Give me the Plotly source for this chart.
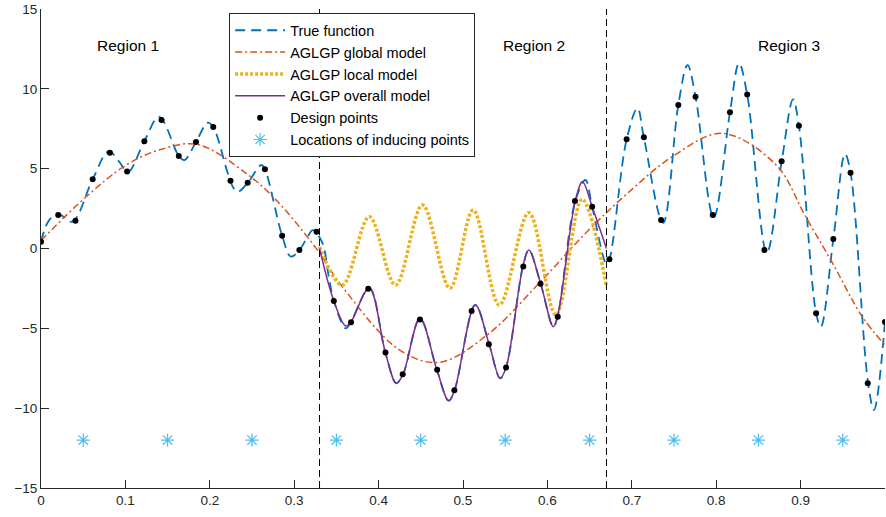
import plotly.graph_objects as go

# ---------------- data ----------------
design_x = [i / 49 for i in range(50)]
design_y = [0.43, 2.10, 1.74, 4.33, 6.00, 4.83, 6.71, 8.05, 5.79, 6.67,
            7.61, 4.25, 4.12, 4.96, 0.80, -0.09, 1.05, -3.29, -4.62, -2.52,
            -6.52, -7.88, -4.44, -7.59, -8.88, -3.91, -6.00, -7.46, -1.12, -2.20,
            -4.27, 2.97, 2.62, -0.68, 6.84, 6.96, 1.78, 8.99, 9.51, 2.10,
            8.53, 9.65, -0.09, 5.46, 7.69, -4.06, 0.59, 4.75, -8.44, -4.60]

true_x = [0.000, 0.0097, 0.021, 0.037, 0.0612, 0.080, 0.0926, 0.103, 0.1224, 0.140,
          0.1633, 0.170, 0.1837, 0.1975, 0.2041, 0.232, 0.2449, 0.261, 0.2653, 0.2857,
          0.296, 0.3061, 0.316, 0.322, 0.333, 0.3416, 0.347, 0.361, 0.367, 0.389,
          0.408, 0.421, 0.429, 0.449, 0.469, 0.483, 0.490, 0.5145, 0.531, 0.544,
          0.551, 0.571, 0.578, 0.592, 0.607, 0.612, 0.633, 0.645, 0.653, 0.670,
          0.6735, 0.6939, 0.7067, 0.7143, 0.737, 0.7551, 0.766, 0.7755, 0.797, 0.8163,
          0.827, 0.8367, 0.860, 0.8776, 0.891, 0.898, 0.9184, 0.924, 0.9388, 0.9526,
          0.9592, 0.980, 0.987, 1.000]
true_y = [0.43, 1.78, 2.15, 1.68, 4.33, 6.08, 5.44, 4.78, 6.71, 8.25,
          5.79, 5.54, 6.67, 7.88, 7.61, 3.56, 4.12, 5.23, 4.96, 0.80,
          -0.51, -0.09, 0.74, 1.15, 0.40, -1.97, -3.29, -5.00, -4.62, -2.48,
          -6.52, -8.44, -7.88, -4.38, -7.59, -9.53, -8.88, -3.54, -6.00, -8.13,
          -7.46, -1.12, -0.09, -2.20, -4.90, -4.27, 2.97, 4.29, 2.62, -0.97,
          -0.68, 6.84, 8.78, 6.96, 1.60, 8.99, 11.49, 9.51, 1.95, 8.53,
          11.60, 9.65, -0.25, 5.46, 9.34, 7.69, -4.06, -4.90, 0.59, 5.92,
          4.75, -8.44, -10.11, -4.60]

global_x = [0.000, 0.0535, 0.101, 0.140, 0.185, 0.243, 0.2785, 0.326, 0.357, 0.425,
            0.472, 0.531, 0.590, 0.649, 0.695, 0.748, 0.807, 0.871, 0.906, 0.938,
            0.973, 1.000]
global_y = [0.50, 3.24, 5.23, 6.17, 6.52, 4.71, 3.04, 0.01, -2.39, -6.36,
            -7.13, -5.31, -2.18, 1.16, 3.46, 5.75, 7.21, 5.23, 1.99, -0.93,
            -4.27, -6.05]

local_x = [0.330, 0.357, 0.389, 0.420, 0.452, 0.4845, 0.512, 0.543, 0.578, 0.610,
           0.641, 0.670]
local_y = [0.10, -2.29, 1.99, -2.29, 2.72, -2.49, 2.41, -3.54, 2.24, -4.16,
           3.08, -2.35]

overall_x = [0.330, 0.347, 0.361, 0.367, 0.389, 0.408, 0.421, 0.429, 0.449, 0.469,
             0.483, 0.490, 0.5145, 0.531, 0.544, 0.551, 0.571, 0.578, 0.592, 0.607,
             0.612, 0.633, 0.6416, 0.653, 0.670]
overall_y = [0.00, -3.29, -4.85, -4.62, -2.48, -6.52, -8.44, -7.88, -4.38, -7.59,
             -9.53, -8.88, -3.54, -6.00, -8.13, -7.46, -1.12, -0.09, -2.20, -4.90,
             -4.27, 2.97, 4.18, 2.62, 0.00]

inducing_x = [0.05, 0.15, 0.25, 0.35, 0.45, 0.55, 0.65, 0.75, 0.85, 0.95]
inducing_y = [-12] * 10

region_bounds = [0.33, 0.67]
region_labels = ["Region 1", "Region 2", "Region 3"]
region_label_x = [0.103, 0.584, 0.886]
region_label_y = 12.7

x_ticks = [0, 0.1, 0.2, 0.3, 0.4, 0.5, 0.6, 0.7, 0.8, 0.9, 1]
x_tick_text = ["0", "0.1", "0.2", "0.3", "0.4", "0.5", "0.6", "0.7", "0.8", "0.9", "1"]
y_ticks = [-15, -10, -5, 0, 5, 10, 15]

# ---------------- figure ----------------
FONT = "Liberation Sans, Arial, Helvetica, sans-serif"
fig = go.Figure()

fig.add_trace(go.Scatter(x=true_x, y=true_y, mode="lines", name="True function",
                         line=dict(color="#0072BD", width=1.8, dash="10px,6px",
                                   shape="spline", smoothing=1.0)))
fig.add_trace(go.Scatter(x=global_x, y=global_y, mode="lines", name="AGLGP global model",
                         line=dict(color="#D95319", width=1.5, dash="7px,3px,2px,3px",
                                   shape="spline", smoothing=1.0)))
fig.add_trace(go.Scatter(x=local_x, y=local_y, mode="lines", name="AGLGP local model",
                         line=dict(color="#EDB120", width=3.5, dash="3px,2px",
                                   shape="spline", smoothing=1.0)))
fig.add_trace(go.Scatter(x=overall_x, y=overall_y, mode="lines", name="AGLGP overall model",
                         line=dict(color="#7E2F8E", width=1.5, shape="spline", smoothing=1.0)))
fig.add_trace(go.Scatter(x=design_x, y=design_y, mode="markers", name="Design points",
                         marker=dict(color="black", size=6, symbol="circle")))
fig.add_trace(go.Scatter(x=inducing_x, y=inducing_y, mode="markers",
                         name="Locations of inducing points",
                         marker=dict(symbol="asterisk-open", size=11,
                                     line=dict(color="#4DBEEE", width=1.2),
                                     color="#4DBEEE")))

for b in region_bounds:
    fig.add_shape(type="line", xref="x", yref="y", x0=b, x1=b, y0=-15, y1=15,
                  line=dict(color="black", width=1, dash="7px,4px"), layer="above")

for lab, lx in zip(region_labels, region_label_x):
    fig.add_annotation(x=lx, y=region_label_y, text=lab, showarrow=False,
                       font=dict(family=FONT, size=15.5, color="black"))

fig.update_layout(
    width=886, height=517,
    margin=dict(l=41, r=1, t=9, b=29),
    paper_bgcolor="white", plot_bgcolor="white",
    font=dict(family=FONT, size=13, color="#262626"),
    legend=dict(x=0.2229, y=0.991, xanchor="left", yanchor="top",
                bgcolor="white", bordercolor="#262626", borderwidth=1,
                font=dict(family=FONT, size=14.5, color="black"),
                itemwidth=50, tracegroupgap=0),
    xaxis=dict(range=[0, 1], tickvals=x_ticks, ticktext=x_tick_text, automargin=False,
               showgrid=False, zeroline=False, showline=True, linecolor="#262626",
               linewidth=1, ticks="inside", ticklen=8, tickcolor="#262626",
               tickfont=dict(family=FONT, size=13.5, color="#262626"), mirror=False),
    yaxis=dict(range=[-15, 15], tickvals=y_ticks, automargin=False,
               showgrid=False, zeroline=False, showline=True, linecolor="#262626",
               linewidth=1, ticks="inside", ticklen=8, tickcolor="#262626",
               tickfont=dict(family=FONT, size=13.5, color="#262626"), mirror=False),
    showlegend=True,
)

fig.write_html("out.html", config={"displayModeBar": False},
               post_script="document.body.style.margin='0';document.body.style.padding='0';")
